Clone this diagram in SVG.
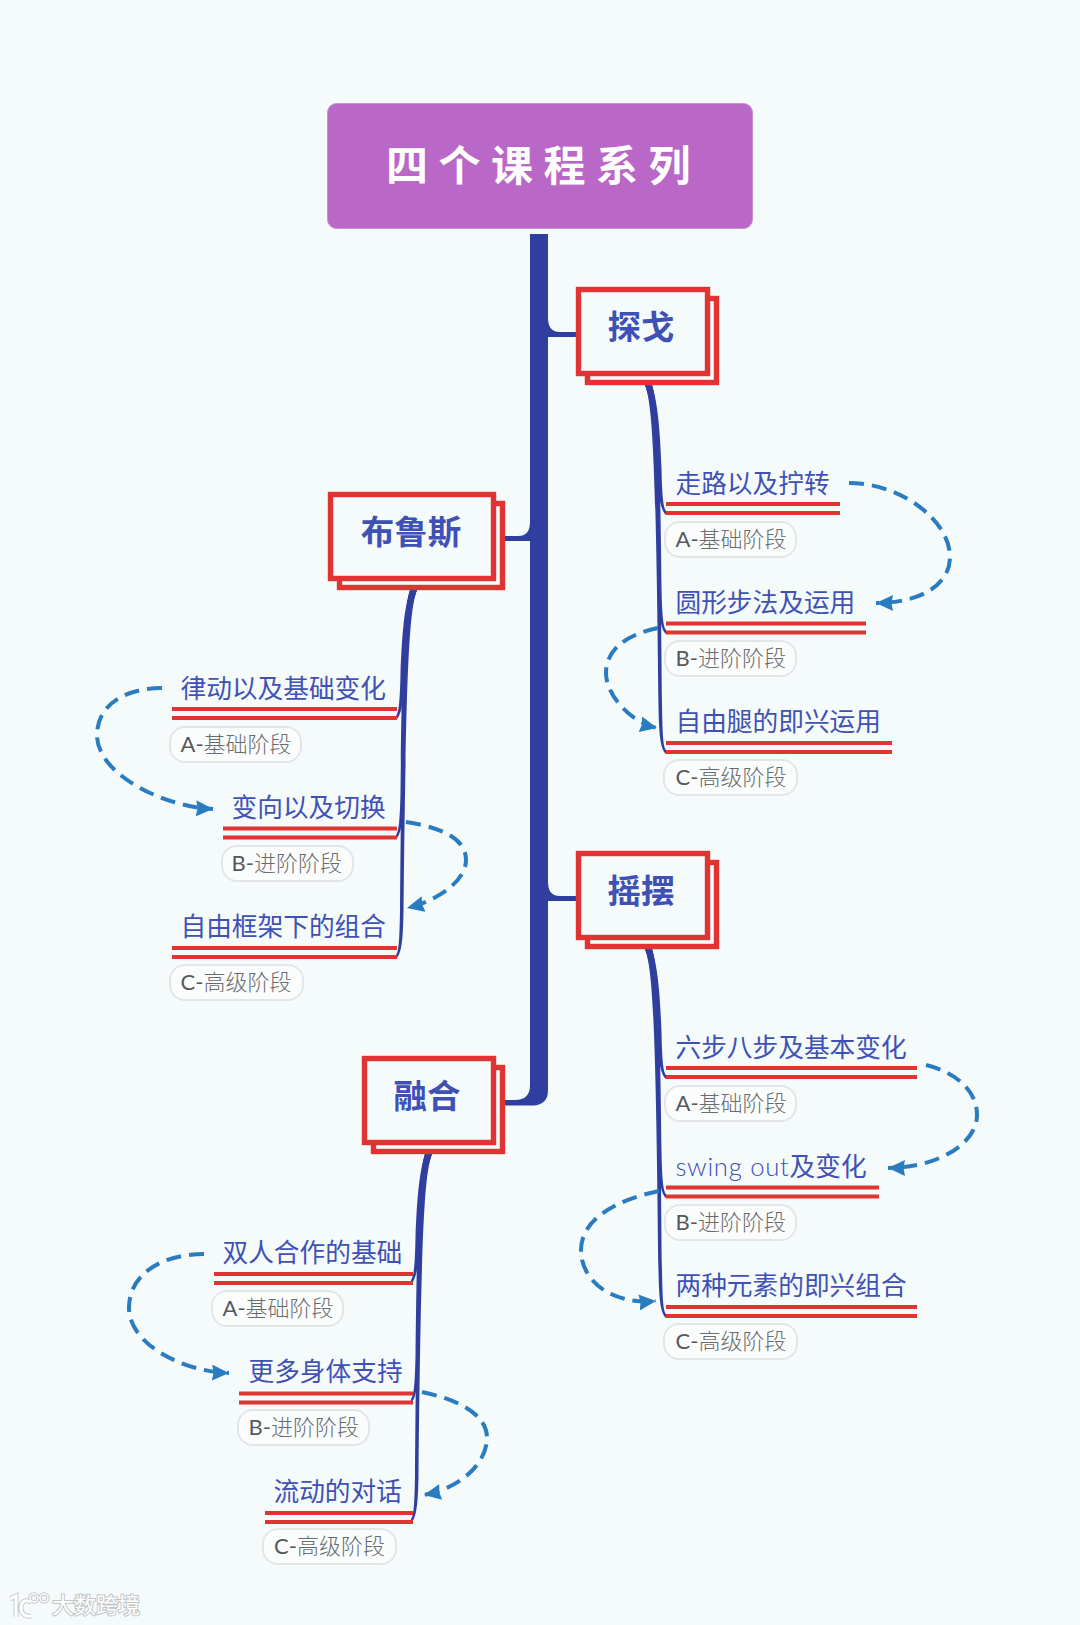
<svg xmlns="http://www.w3.org/2000/svg" xmlns:xlink="http://www.w3.org/1999/xlink" width="1080" height="1625" viewBox="0 0 1080 1625">
<style>
text{font-family:"Lato","Noto Sans CJK SC","Noto Sans",sans-serif}
.bk{fill:#f5fafb;stroke:#e23333;stroke-width:5.4}
.tp{font-family:"Noto Sans CJK SC",sans-serif;font-weight:700;font-size:33.5px;fill:#3f51b5;text-anchor:middle}
.st{font-size:25.7px;font-weight:400;fill:#3f51b5}
.ul{stroke:#e23333;stroke-width:4;fill:none}
.pl{fill:#fbfdfd;stroke:#e2e6e8;stroke-width:2}
.lb{font-size:22px;font-weight:300;fill:#696c6f}
.lb tspan{font-weight:400;fill:#55595c}
.tr{fill:#303f9f}
.cv{fill:#303f9f}
.ds{fill:none;stroke:#2a7cc0;stroke-width:4;stroke-dasharray:15 8;marker-end:url(#ah)}
.w1{fill:none;stroke:#c4cacd;stroke-width:5}
.w2{fill:none;stroke:#fff;stroke-width:3}
</style>
<defs>
<marker id="ah" markerUnits="userSpaceOnUse" markerWidth="19" markerHeight="17" refX="17" refY="8" orient="auto"><path d="M0 0L17 8L0 16L1.500 8Z" fill="#2a7cc0"/></marker>
<path id="c1" d="M645 385C653 405 655 430 657 468C658 493 660 510 666 515L666 511C663 508 662 493 661.500 468C660 430 658 405 652 385Z"/>
<path id="c2" d="M645 385C653 405 656 450 658 587C659 612 660 629 666 634L666 630C663 627 662 612 661.500 587C660 450 658 405 652 385Z"/>
<path id="c3" d="M645 385C653 405 656 470 658.500 707C659 732 660 749 666 754L666 750C663 747 662.500 732 662 707C660 470 658 405 652 385Z"/>
<path id="lg" d="M10 1599L16 1596V1617M31 1602C18 1595 17 1619 31 1616"/>
</defs>
<rect width="1080" height="1625" fill="#f5fafb"/>
<g id="connectors">
<path class="tr" d="M530 234V1085Q530 1100 515 1100H505V1105.5H533Q548 1105 548 1090V234Z"/>
<path class="tr" d="M548 318Q548 332 560 332H578V337H548Z"/>
<path class="tr" d="M548 882Q548 896 560 896H578V901H548Z"/>
<path class="tr" d="M530 522Q530 536 518 536H503V541H530Z"/>
<g class="cv">
<use xlink:href="#c1" href="#c1"/><use xlink:href="#c2" href="#c2"/><use xlink:href="#c3" href="#c3"/>
<use xlink:href="#c1" href="#c1" transform="translate(0 564)"/><use xlink:href="#c2" href="#c2" transform="translate(0 564)"/><use xlink:href="#c3" href="#c3" transform="translate(0 564)"/>
<use xlink:href="#c1" href="#c1" transform="matrix(-1 0 0 1 1062 205)"/><use xlink:href="#c2" href="#c2" transform="matrix(-1 0 0 1 1062 205)"/><use xlink:href="#c3" href="#c3" transform="matrix(-1 0 0 1 1062 205)"/>
<use xlink:href="#c1" href="#c1" transform="matrix(-1 0 0 1 1077 769)"/><use xlink:href="#c2" href="#c2" transform="matrix(-1 0 0 1 1077 769)"/><use xlink:href="#c3" href="#c3" transform="matrix(-1 0 0 1 1077 769)"/>
</g>
<path class="ds" d="M849 483C900 483 950 520 950 557C950 585 920 603 876 603"/>
<path class="ds" d="M658 628C625 635 606 650 606 673C606 695 630 722 657 728"/>
<path class="ds" d="M162 688C125 688 97 705 97 735C97 775 165 807 213 809"/>
<path class="ds" d="M406 822C445 828 466 840 466 860C466 880 440 900 407 908"/>
<path class="ds" d="M926 1065C955 1072 977 1090 977 1115C977 1145 935 1168 888 1168"/>
<path class="ds" d="M659 1191C615 1200 581 1220 581 1250C581 1280 610 1305 656 1301"/>
<path class="ds" d="M204 1254C165 1254 129 1272 129 1308C129 1345 185 1372 229 1373"/>
<path class="ds" d="M422 1392C460 1400 487 1415 487 1438C487 1462 462 1488 424 1495"/>
</g>
<g id="root"><rect x="327.500" y="103.500" width="425" height="125" rx="9" fill="#b968c7" stroke="#c98fd4" stroke-width="1"/>
<text x="386" y="181" font-size="42" font-weight="700" letter-spacing="10.500" fill="#fff" style="font-family:'Noto Sans CJK SC',sans-serif">四个课程系列</text></g>
<g id="t1"><rect class="bk" x="587.500" y="298.500" width="129" height="84"/><rect class="bk" x="578.500" y="289.500" width="129" height="84"/><text class="tp" x="641" y="339">探戈</text></g>
<g id="t2"><rect class="bk" x="587.500" y="862.500" width="129" height="84"/><rect class="bk" x="578.500" y="853.500" width="129" height="84"/><text class="tp" x="641" y="903">摇摆</text></g>
<g id="t3"><rect class="bk" x="339.500" y="503.500" width="163" height="84"/><rect class="bk" x="330.500" y="494.500" width="163" height="84"/><text class="tp" x="411" y="544">布鲁斯</text></g>
<g id="t4"><rect class="bk" x="373.500" y="1067.500" width="129" height="84"/><rect class="bk" x="364.500" y="1058.500" width="129" height="84"/><text class="tp" x="427" y="1108">融合</text></g>

<g id="s11"><text class="st" x="675.500" y="493">走路以及拧转</text><path class="ul" d="M666 504H840M666 513H840"/><rect class="pl" x="665" y="522" width="131" height="35" rx="15"/><text class="lb" x="675.500" y="547"><tspan>A-</tspan>基础阶段</text></g>
<g id="s12"><text class="st" x="675.500" y="612">圆形步法及运用</text><path class="ul" d="M666 623.500H866M666 632.500H866"/><rect class="pl" x="665" y="641" width="131" height="35" rx="15"/><text class="lb" x="675.500" y="666"><tspan>B-</tspan>进阶阶段</text></g>
<g id="s13"><text class="st" x="675.500" y="731">自由腿的即兴运用</text><path class="ul" d="M666 743H892M666 752H892"/><rect class="pl" x="664" y="760" width="133" height="35" rx="15"/><text class="lb" x="675.500" y="785"><tspan>C-</tspan>高级阶段</text></g>

<g id="s21"><text class="st" x="675.500" y="1057">六步八步及基本变化</text><path class="ul" d="M666 1068H917M666 1077H917"/><rect class="pl" x="665" y="1086" width="131" height="35" rx="15"/><text class="lb" x="675.500" y="1111"><tspan>A-</tspan>基础阶段</text></g>
<g id="s22"><text class="st" x="675.500" y="1176"><tspan letter-spacing="0.7" font-weight="300">swing out</tspan>及变化</text><path class="ul" d="M666 1187.500H879M666 1196.500H879"/><rect class="pl" x="665" y="1205" width="131" height="35" rx="15"/><text class="lb" x="675.500" y="1230"><tspan>B-</tspan>进阶阶段</text></g>
<g id="s23"><text class="st" x="675.500" y="1295">两种元素的即兴组合</text><path class="ul" d="M666 1307H917M666 1316H917"/><rect class="pl" x="664" y="1324" width="133" height="35" rx="15"/><text class="lb" x="675.500" y="1349"><tspan>C-</tspan>高级阶段</text></g>

<g id="s31"><text class="st" x="180.500" y="698">律动以及基础变化</text><path class="ul" d="M172 709H397M172 718H397"/><rect class="pl" x="170" y="727" width="131" height="35" rx="15"/><text class="lb" x="180.500" y="752"><tspan>A-</tspan>基础阶段</text></g>
<g id="s32"><text class="st" x="231.500" y="817">变向以及切换</text><path class="ul" d="M223 828.500H397M223 837.500H397"/><rect class="pl" x="222" y="846" width="131" height="35" rx="15"/><text class="lb" x="231.500" y="871"><tspan>B-</tspan>进阶阶段</text></g>
<g id="s33"><text class="st" x="180.500" y="936">自由框架下的组合</text><path class="ul" d="M172 948H397M172 957H397"/><rect class="pl" x="170" y="965" width="133" height="35" rx="15"/><text class="lb" x="180.500" y="990"><tspan>C-</tspan>高级阶段</text></g>

<g id="s41"><text class="st" x="222.500" y="1262">双人合作的基础</text><path class="ul" d="M214 1274H413M214 1283H413"/><rect class="pl" x="212" y="1291" width="131" height="35" rx="15"/><text class="lb" x="222.500" y="1316"><tspan>A-</tspan>基础阶段</text></g>
<g id="s42"><text class="st" x="248.500" y="1381">更多身体支持</text><path class="ul" d="M239 1393.500H413M239 1402.500H413"/><rect class="pl" x="238" y="1410" width="131" height="35" rx="15"/><text class="lb" x="248.500" y="1435"><tspan>B-</tspan>进阶阶段</text></g>
<g id="s43"><text class="st" x="273.500" y="1501">流动的对话</text><path class="ul" d="M265 1513H413M265 1522H413"/><rect class="pl" x="263" y="1529" width="133" height="35" rx="15"/><text class="lb" x="274" y="1554"><tspan>C-</tspan>高级阶段</text></g>

<g id="watermark"><use xlink:href="#lg" href="#lg" class="w1"/><circle class="w1" cx="34" cy="1598" r="4" style="stroke-width:3.5"/><circle class="w1" cx="44" cy="1598" r="4" style="stroke-width:3.5"/><use xlink:href="#lg" href="#lg" class="w2"/><circle cx="34" cy="1598" r="4" fill="none" stroke="#fff" stroke-width="1.500"/><circle cx="44" cy="1598" r="4" fill="none" stroke="#fff" stroke-width="1.500"/>
<text x="52" y="1613" font-size="22" fill="#fff" stroke="#bfc5c8" stroke-width="2" paint-order="stroke" style="font-family:'Noto Sans CJK SC',sans-serif">大数跨境</text></g>
</svg>
